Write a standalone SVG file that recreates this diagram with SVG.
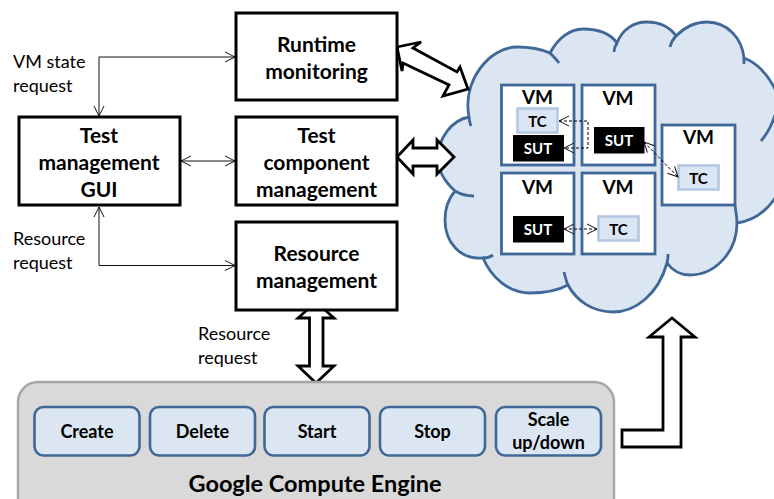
<svg xmlns="http://www.w3.org/2000/svg" width="774" height="499" viewBox="0 0 774 499">
<style>
text{font-family:"Lato","Carlito","Noto Sans",sans-serif;fill:#000}
.n{font-weight:700;font-size:21px;text-anchor:middle}
.l{font-size:18px}
.b{fill:#fff;stroke:#000;stroke-width:3}
.c{fill:#dce6f2;stroke:#3f6797;stroke-width:2.8;fill-rule:nonzero}
.t{fill:none;stroke:#3f6797;stroke-width:2.8}
.vm{fill:#fff;stroke:#3f6797;stroke-width:2.8}
.vt{font-weight:700;font-size:19px;text-anchor:middle}
.tc{fill:#dce6f2;stroke:#b4c7e2;stroke-width:2.6}
.sut{fill:#000}
.st{font-weight:700;font-size:15px;text-anchor:middle;fill:#fff}
.tt{font-weight:700;font-size:15px;text-anchor:middle}
.btn{fill:#dce6f2;stroke:#3f6797;stroke-width:2.6}
.bt{font-weight:700;font-size:18px;text-anchor:middle}
.thin{fill:none;stroke:#111;stroke-width:1;marker-start:url(#o);marker-end:url(#o)}
.dash{fill:none;stroke:#000;stroke-width:1;stroke-dasharray:3 2}
.d3{marker-start:url(#o);marker-end:url(#o)}
.big{fill:#fff;stroke:#000;stroke-width:2.800;stroke-linejoin:miter}
</style>
<defs>
<marker id="o" viewBox="0 0 12 12" refX="11" refY="6" markerWidth="12" markerHeight="12" markerUnits="userSpaceOnUse" orient="auto-start-reverse"><path d="M1,1 L11,6 L1,11" fill="none" stroke="#111" stroke-width="1"/></marker>
</defs>

<g id="cloud">
<path class="c" d="M469,117 C462,80 490,47 517,47 C530,47 541,49 550,53 C558,38 570,29 583,29 C597,29 610,33 617,43 C622,30 633,22 647,22 C659,22 670,27 676,36 C685,27 695,22 707,22 C727,22 742,38 744,58 C760,64 772,80 780,100 L780,190 C768,212 752,221 737,223 C737,252 715,275 690,275 C680,275 672,270 667,263 C658,295 635,312 613,312 C594,312 577,302 568,285 C557,291 545,293 530,293 C510,293 492,279 483,258 C460,260 445,242 445,220 C445,208 449,198 455,191 C445,182 438,172 438,158 C438,138 452,120 469,117 Z"/>
<path class="t" d="M469,117 C469,120 470,123 471,126 M550,53 C553,56 557,60 559,63 M617,43 C615,46 614,49 614,52 M676,36 C673,39 671,43 670,47 M744,58 L744,64 M775,115 C772,125 767,134 761,141 M737,223 C737,217 736,212 735,206 M668,254 C668,257 668,260 667,263 M568,285 C566,281 565,276 564,272 M483,258 C487,258 490,257 493,255 M455,191 C460,194 467,196 474,196"/>
</g>

<g id="connectors">
<path class="thin" d="M99,116 L99,57 L235,57"/>
<path class="thin" d="M181,161 L235,161"/>
<path class="thin" d="M99,207 L99,265.500 L235,265.500"/>
<polygon class="big" points="397,47 421,42 413,48 457,72 460,67 468,89 443,96 449,85 403,63 402,71"/>
<polygon class="big" points="397,157 413,140 413,148 437,148 437,140 454,157 437,174 437,166 413,166 413,174"/>
<polygon class="big" points="316,302 334,318 323,318 323,366 334,366 316,383 298,366 309.500,366 309.500,318 298,318"/>
<polygon class="big" points="622,430 663,430 663,337 649,337 672,318 695,337 681,337 681,447 622,447"/>
</g>

<g id="runtime-monitoring"><rect class="b" x="236" y="13" width="161" height="87"/><text class="n" x="316.500" y="52">Runtime</text><text class="n" x="316.500" y="79">monitoring</text></g>
<g id="test-component-management"><rect class="b" x="236" y="117" width="161" height="88"/><text class="n" x="316.500" y="143">Test</text><text class="n" x="316.500" y="170">component</text><text class="n" x="316.500" y="197">management</text></g>
<g id="resource-management"><rect class="b" x="236" y="222" width="161" height="88"/><text class="n" x="316.500" y="261">Resource</text><text class="n" x="316.500" y="288">management</text></g>
<g id="test-management-gui"><rect class="b" x="19" y="117" width="161" height="88"/><text class="n" x="99" y="143">Test</text><text class="n" x="99" y="170">management</text><text class="n" x="99" y="197">GUI</text></g>

<g id="label-vm-state"><text class="l" x="13" y="68">VM state</text><text class="l" x="13" y="92">request</text></g>
<g id="label-resource-1"><text class="l" x="13" y="245">Resource</text><text class="l" x="13" y="269">request</text></g>
<g id="label-resource-2"><text class="l" x="198" y="340">Resource</text><text class="l" x="198" y="364">request</text></g>

<g id="vm-1"><rect class="vm" x="501.500" y="85" width="72.500" height="80"/><text class="vt" x="537.500" y="104">VM</text></g>
<g id="vm-2"><rect class="vm" x="582" y="85" width="73" height="80"/><text class="vt" x="618" y="105">VM</text></g>
<g id="vm-3"><rect class="vm" x="501.500" y="173" width="72.500" height="81"/><text class="vt" x="537.500" y="194">VM</text></g>
<g id="vm-4"><rect class="vm" x="582" y="173" width="73" height="81"/><text class="vt" x="618" y="194">VM</text></g>
<g id="vm-5"><rect class="vm" x="662" y="125" width="73" height="80"/><text class="vt" x="698.500" y="144">VM</text></g>

<g id="tc-1"><rect class="tc" x="517.500" y="108.500" width="40" height="24"/><text class="tt" x="537.500" y="127">TC</text></g>
<g id="sut-1"><rect class="sut" x="513" y="135" width="51" height="26.500"/><text class="st" x="538" y="154">SUT</text></g>
<g id="sut-2"><rect class="sut" x="594" y="127" width="50.500" height="26.500"/><text class="st" x="619" y="146">SUT</text></g>
<g id="tc-2"><rect class="tc" x="678.500" y="165.500" width="40" height="24"/><text class="tt" x="698.500" y="184">TC</text></g>
<g id="sut-3"><rect class="sut" x="513" y="216" width="51" height="26.500"/><text class="st" x="538" y="235">SUT</text></g>
<g id="tc-3"><rect class="tc" x="598.500" y="216.500" width="40" height="24"/><text class="tt" x="618.500" y="235">TC</text></g>

<g id="vm-connectors">
<path class="dash d3" d="M559,121 L588,121 L588,148 L564,148"/>
<path class="dash d3" d="M644,142 L678,177"/>
<path class="dash d3" d="M564,229 L597,229"/>
</g>

<g id="google-compute-engine"><rect x="18" y="382" width="596" height="140" rx="20" fill="#d9d9d9" stroke="#a6a6a6" stroke-width="2.400"/><text x="315" y="492" text-anchor="middle" font-weight="700" font-size="23.500">Google Compute Engine</text></g>
<g id="btn-create"><rect class="btn" x="34.500" y="407" width="105" height="48.500" rx="9"/><text class="bt" x="87" y="438">Create</text></g>
<g id="btn-delete"><rect class="btn" x="150" y="407" width="105" height="48.500" rx="9"/><text class="bt" x="202.500" y="438">Delete</text></g>
<g id="btn-start"><rect class="btn" x="264.500" y="407" width="105" height="48.500" rx="9"/><text class="bt" x="317" y="438">Start</text></g>
<g id="btn-stop"><rect class="btn" x="380" y="407" width="105" height="48.500" rx="9"/><text class="bt" x="432.500" y="438">Stop</text></g>
<g id="btn-scale"><rect class="btn" x="496" y="407" width="105" height="48.500" rx="9"/><text class="bt" x="548.500" y="426">Scale</text><text class="bt" x="548.500" y="449">up/down</text></g>
</svg>
